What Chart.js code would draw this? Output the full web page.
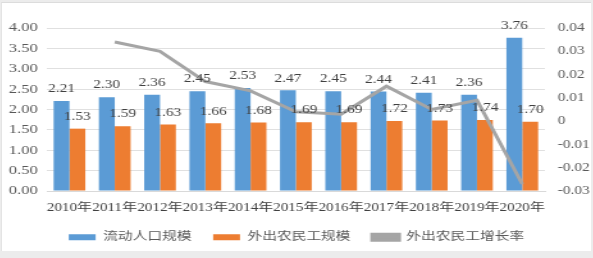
<!DOCTYPE html>
<html lang="zh">
<head>
    <meta charset="UTF-8">
    <title>流动人口与外出农民工</title>
    <style>
        body {
            margin: 0;
            background: #ececec;
        }
        .frame {
            position: absolute;
            left: 1px;
            top: 2px;
            width: 589px;
            height: 248px;
            background: #fff;
            border-top: 1px solid #dcdcdc;
            border-left: 1px solid #e4e4e4;
        }
    </style>
</head>
<body>
    <div class="frame">
        <!-- the source picture is stretched sideways, so the canvas is stretched too -->
        <canvas id="myChart" width="460" height="248" style="display:block;width:589px;height:248px"></canvas>
    </div>

    <script src="https://cdn.jsdelivr.net/npm/chart.js"></script>
    <script>
        const years = ['2010年', '2011年', '2012年', '2013年', '2014年', '2015年', '2016年', '2017年', '2018年', '2019年', '2020年'];
        const floatingPop = [2.21, 2.30, 2.36, 2.45, 2.53, 2.47, 2.45, 2.44, 2.41, 2.36, 3.76];
        const migrantWorkers = [1.53, 1.59, 1.63, 1.66, 1.68, 1.69, 1.69, 1.72, 1.73, 1.74, 1.70];
        const growthRate = [null, 0.034, 0.030, 0.017, 0.013, 0.004, 0.003, 0.015, 0.005, 0.009, -0.027];

        const serif = "'Liberation Serif', 'Noto Sans CJK SC', serif";

        // value labels above the bars
        const barLabels = {
            id: 'barLabels',
            afterDatasetsDraw(chart) {
                const ctx = chart.ctx;
                ctx.save();
                ctx.font = '12px ' + serif;
                ctx.fillStyle = '#404040';
                ctx.textAlign = 'center';
                ctx.textBaseline = 'middle';
                chart.data.datasets.forEach((ds, i) => {
                    if (ds.type !== 'bar') return;
                    chart.getDatasetMeta(i).data.forEach((bar, j) => {
                        ctx.fillText(ds.data[j].toFixed(2), bar.x, bar.y - 12);
                    });
                });
                ctx.restore();
            }
        };

        new Chart(document.getElementById('myChart'), {
            data: {
                labels: years,
                datasets: [{
                    type: 'bar',
                    label: '流动人口规模',
                    data: floatingPop,
                    backgroundColor: '#5B9BD5',
                    yAxisID: 'y',
                    order: 2
                }, {
                    type: 'bar',
                    label: '外出农民工规模',
                    data: migrantWorkers,
                    backgroundColor: '#ED7D31',
                    yAxisID: 'y',
                    order: 2
                }, {
                    type: 'line',
                    label: '外出农民工增长率',
                    data: growthRate,
                    borderColor: '#A5A5A5',
                    backgroundColor: '#A5A5A5',
                    borderWidth: 3,
                    pointRadius: 0,
                    tension: 0,
                    yAxisID: 'y1',
                    order: 1
                }]
            },
            options: {
                responsive: false,
                animation: false,
                datasets: {
                    bar: {
                        categoryPercentage: 0.7,
                        barPercentage: 1.0
                    }
                },
                layout: {
                    padding: { top: 25, right: 0, left: 0, bottom: -2 }
                },
                plugins: {
                    legend: {
                        position: 'bottom',
                        labels: {
                            boxWidth: 21,
                            boxHeight: 6,
                            padding: 17,
                            color: '#595959',
                            font: { family: serif, size: 11.5 },
                            sort: (a, b) => a.datasetIndex - b.datasetIndex
                        }
                    },
                    tooltip: { enabled: false }
                },
                scales: {
                    x: {
                        grid: { display: false, drawTicks: false },
                        border: { color: '#d9d9d9' },
                        ticks: {
                            color: '#404040',
                            font: { family: serif, size: 11.8 },
                            maxRotation: 0,
                            autoSkip: false,
                            padding: 10
                        },
                        afterFit: s => { s.height = 23.5; }
                    },
                    y: {
                        position: 'left',
                        min: 0,
                        max: 4,
                        border: { display: false },
                        grid: { color: '#e0e0e0', drawTicks: false },
                        ticks: {
                            stepSize: 0.5,
                            autoSkip: false,
                            color: '#595959',
                            padding: 7,
                            font: { family: serif, size: 13 },
                            callback: v => v.toFixed(2)
                        },
                        afterFit: s => { s.width = 35; }
                    },
                    y1: {
                        position: 'right',
                        min: -0.03,
                        max: 0.04,
                        border: { display: false },
                        grid: { display: false, drawTicks: false },
                        ticks: {
                            stepSize: 0.01,
                            autoSkip: false,
                            color: '#595959',
                            padding: 10,
                            font: { family: serif, size: 12 },
                            callback: v => Math.abs(v) < 1e-9 ? '0' : v.toFixed(2)
                        },
                        afterFit: s => { s.width = 36; }
                    }
                }
            },
            plugins: [barLabels]
        });
    </script>
</body>
</html>
